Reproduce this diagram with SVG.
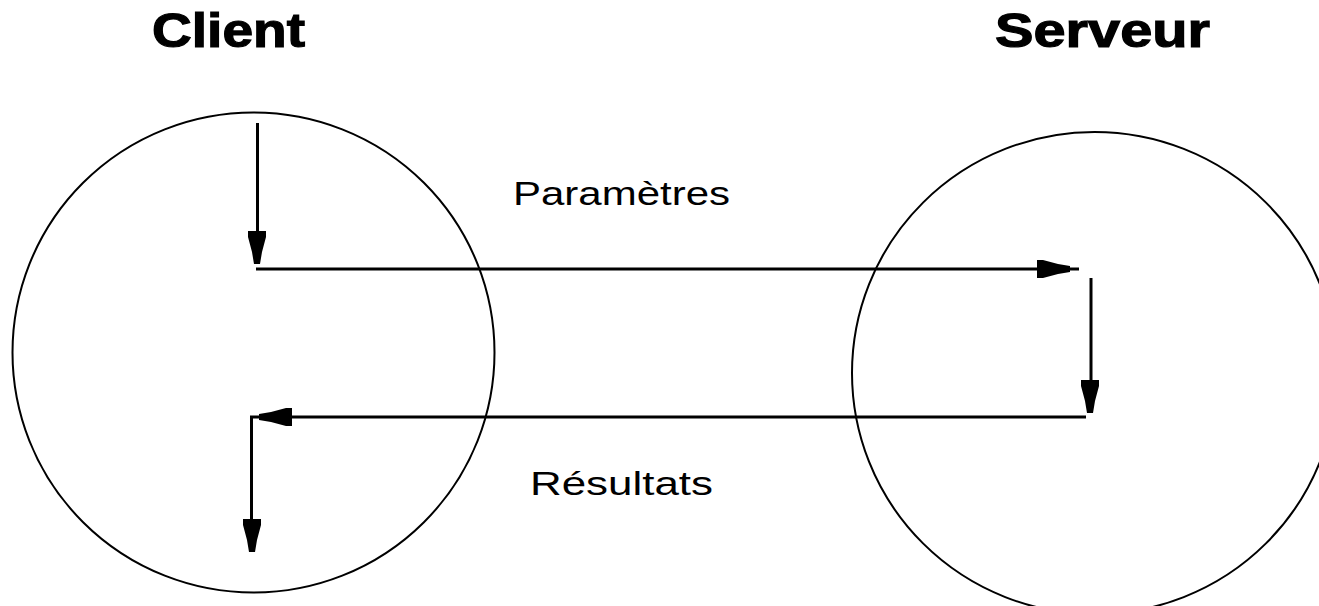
<svg xmlns="http://www.w3.org/2000/svg" width="1319" height="606" viewBox="0 0 1319 606">
  <style>
    .bg { fill: #ffffff; }
    .node { fill: none; stroke: #000; stroke-width: 2; }
    .title { font-family: "Liberation Sans", Arial, sans-serif; font-weight: bold; font-size: 49px; fill: #000; stroke: #000; stroke-width: 1.2; }
    .lbl { font-family: "Liberation Sans", Arial, sans-serif; font-size: 33px; fill: #000; }
    .conn { fill: none; stroke: #000; stroke-width: 3; }
    .head { fill: #000; }
  </style>
  <defs>
    <path id="ah" class="head" d="M-9,-33 H9 V-27 L5,-12 L3,0 H-3 L-5,-12 L-9,-27 Z"/>
  </defs>
  <rect class="bg" x="0" y="0" width="1319" height="606"/>

  <g id="client">
    <ellipse class="node" cx="253.5" cy="352.5" rx="241" ry="240"/>
    <text class="title" x="152" y="47" textLength="153" lengthAdjust="spacingAndGlyphs">Client</text>
  </g>

  <g id="serveur">
    <ellipse class="node" cx="1094.5" cy="373" rx="242.5" ry="241"/>
    <text class="title" x="995" y="47" textLength="215" lengthAdjust="spacingAndGlyphs">Serveur</text>
  </g>

  <g id="connectors">
    <path class="conn" d="M257.5,123 V262"/>
    <use href="#ah" transform="translate(257,264)"/>
    <path class="conn" d="M256,269 H1079"/>
    <use href="#ah" transform="translate(1070,269) rotate(-90)"/>
    <path class="conn" d="M1091,278 V411"/>
    <use href="#ah" transform="translate(1090,413)"/>
    <path class="conn" d="M1086,417 H251.5 V550"/>
    <use href="#ah" transform="translate(259,417) rotate(90)"/>
    <use href="#ah" transform="translate(252,552)"/>
    <text class="lbl" x="513" y="205" textLength="217" lengthAdjust="spacingAndGlyphs">Paramètres</text>
    <text class="lbl" x="530" y="495" textLength="183" lengthAdjust="spacingAndGlyphs">Résultats</text>
  </g>
</svg>
